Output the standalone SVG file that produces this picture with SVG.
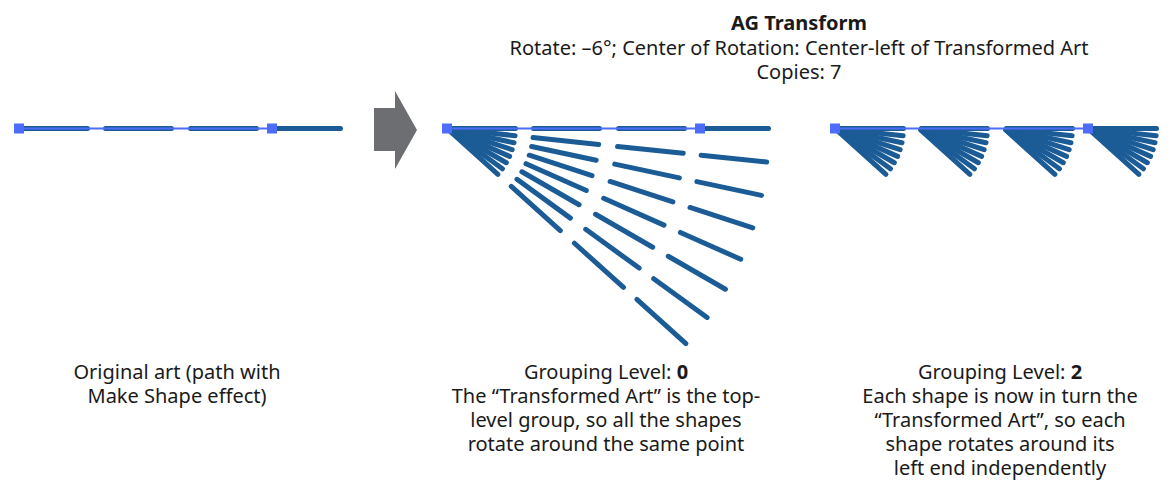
<svg xmlns="http://www.w3.org/2000/svg" xmlns:xlink="http://www.w3.org/1999/xlink" width="1176" height="494" viewBox="0 0 1176 494">
<style>
.s{stroke:#1b5c97;stroke-width:5;stroke-linecap:round;fill:none}
.sel{stroke:#4d6cfa;stroke-width:1.8;fill:none}
.h{fill:#4d6cfa}
.t{font-family:"Noto Sans","Open Sans","DejaVu Sans",sans-serif;font-size:20px;fill:#1a1a1a;text-anchor:middle}
.b{font-weight:bold}
</style>
<defs>
<g id="dash" class="s"><line x1="2.5" y1="0" x2="68.5" y2="0"/></g>
<g id="art" class="s">
<line x1="2.5" y1="0" x2="68.5" y2="0"/>
<line x1="86.5" y1="0" x2="152.5" y2="0"/>
<line x1="171.5" y1="0" x2="237.5" y2="0"/>
<line x1="255.5" y1="0" x2="321.5" y2="0"/>
</g>
<g id="fanall">
<use xlink:href="#art" href="#art" transform="rotate(42)"/>
<use xlink:href="#art" href="#art" transform="rotate(36)"/>
<use xlink:href="#art" href="#art" transform="rotate(30)"/>
<use xlink:href="#art" href="#art" transform="rotate(24)"/>
<use xlink:href="#art" href="#art" transform="rotate(18)"/>
<use xlink:href="#art" href="#art" transform="rotate(12)"/>
<use xlink:href="#art" href="#art" transform="rotate(6)"/>
<use xlink:href="#art" href="#art"/>
</g>
<g id="fan1">
<use xlink:href="#dash" href="#dash" transform="rotate(42)"/>
<use xlink:href="#dash" href="#dash" transform="rotate(36)"/>
<use xlink:href="#dash" href="#dash" transform="rotate(30)"/>
<use xlink:href="#dash" href="#dash" transform="rotate(24)"/>
<use xlink:href="#dash" href="#dash" transform="rotate(18)"/>
<use xlink:href="#dash" href="#dash" transform="rotate(12)"/>
<use xlink:href="#dash" href="#dash" transform="rotate(6)"/>
<use xlink:href="#dash" href="#dash"/>
</g>
<g id="selpath">
<line class="sel" x1="0" y1="0" x2="253" y2="0"/>
<rect class="h" x="-5" y="-5" width="10" height="10"/>
<rect class="h" x="248" y="-5" width="10" height="10"/>
</g>
</defs>

<g id="original">
<use xlink:href="#art" href="#art" transform="translate(19,128.5)"/>
<use xlink:href="#selpath" href="#selpath" transform="translate(19,128.5)"/>
</g>

<g id="arrow">
<polygon points="374,108 395,108 395,91 417,130 395,169 395,151 374,151" fill="#6d6e71"/>
</g>

<g id="level0">
<use xlink:href="#fanall" href="#fanall" transform="translate(447,128.5)"/>
<use xlink:href="#selpath" href="#selpath" transform="translate(447,128.5)"/>
</g>

<g id="level2">
<use xlink:href="#fan1" href="#fan1" transform="translate(835,128.5)"/>
<use xlink:href="#fan1" href="#fan1" transform="translate(919,128.5)"/>
<use xlink:href="#fan1" href="#fan1" transform="translate(1004,128.5)"/>
<use xlink:href="#fan1" href="#fan1" transform="translate(1088,128.5)"/>
<use xlink:href="#selpath" href="#selpath" transform="translate(835,128.5)"/>
</g>

<g id="title">
<text class="t b" x="799" y="29.5">AG Transform</text>
<text class="t" x="799" y="54.5">Rotate: –6°; Center of Rotation: Center-left of Transformed Art</text>
<text class="t" x="799" y="78.5">Copies: 7</text>
</g>

<g id="caption-original">
<text class="t" x="177" y="379">Original art (path with</text>
<text class="t" x="177" y="403">Make Shape effect)</text>
</g>

<g id="caption-level0">
<text class="t" x="606" y="379">Grouping Level: <tspan class="b">0</tspan></text>
<text class="t" x="606" y="403">The “Transformed Art” is the top-</text>
<text class="t" x="606" y="427">level group, so all the shapes</text>
<text class="t" x="606" y="451">rotate around the same point</text>
</g>

<g id="caption-level2">
<text class="t" x="1000" y="379">Grouping Level: <tspan class="b">2</tspan></text>
<text class="t" x="1000" y="403">Each shape is now in turn the</text>
<text class="t" x="1000" y="427">“Transformed Art”, so each</text>
<text class="t" x="1000" y="451">shape rotates around its</text>
<text class="t" x="1000" y="475">left end independently</text>
</g>
</svg>
